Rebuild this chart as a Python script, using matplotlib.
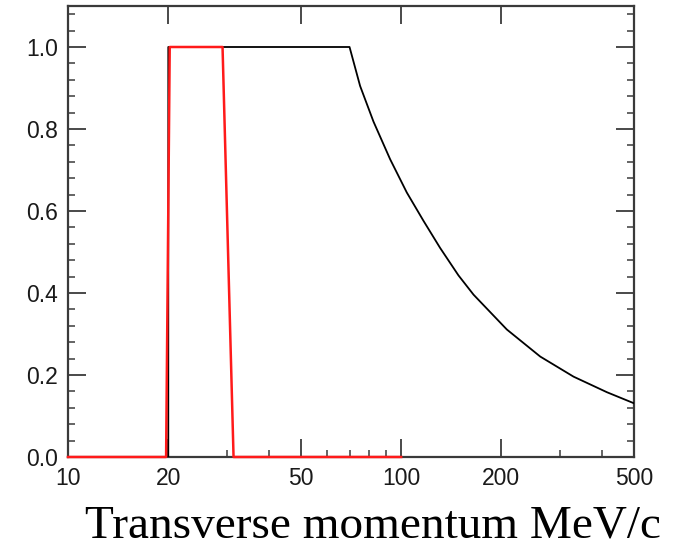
import matplotlib
matplotlib.use("Agg")
import matplotlib.pyplot as plt
from matplotlib.ticker import FixedLocator, NullFormatter, FixedFormatter

# Data
black_pt = [10, 20, 20, 70, 75.3, 82.6, 92.7, 104.0, 116.7, 130.9, 148.6, 164.9,
            207.6, 261.5, 329.2, 414.7, 500]
black_eff = [0.0, 0.0, 1.0, 1.0, 0.905, 0.818, 0.726, 0.645, 0.576, 0.510, 0.443, 0.396,
             0.311, 0.245, 0.196, 0.158, 0.131]

red_pt = [10, 19.7, 20.2, 29.1, 31.4, 100]
red_eff = [0.0, 0.0, 1.0, 1.0, 0.0, 0.0]

xticks = [10, 20, 50, 100, 200, 500]
xtick_labels = ["10", "20", "50", "100", "200", "500"]
xminor = [30, 40, 60, 70, 80, 90, 300, 400]
yticks = [0.0, 0.2, 0.4, 0.6, 0.8, 1.0]
ytick_labels = ["0.0", "0.2", "0.4", "0.6", "0.8", "1.0"]
yminor = [0.04, 0.08, 0.12, 0.16, 0.24, 0.28, 0.32, 0.36, 0.44, 0.48, 0.52, 0.56,
          0.64, 0.68, 0.72, 0.76, 0.84, 0.88, 0.92, 0.96, 1.04, 1.08]
xlabel = "Transverse momentum MeV/c"

fig = plt.figure(figsize=(6.75, 5.5), dpi=100)
ax = fig.add_axes([68/675, 1-457/550, (634-68)/675, (457-6)/550])

ax.plot(black_pt, black_eff, color="black", lw=1.3, zorder=3)
ax.plot(red_pt, red_eff, color="#ff1a1a", lw=1.8, zorder=4, clip_on=False)

ax.set_xscale("log")
ax.set_xlim(10, 500)
ax.set_ylim(0, 1.1)

ax.xaxis.set_major_locator(FixedLocator(xticks))
ax.xaxis.set_major_formatter(FixedFormatter(xtick_labels))
ax.xaxis.set_minor_locator(FixedLocator(xminor))
ax.xaxis.set_minor_formatter(NullFormatter())
ax.yaxis.set_major_locator(FixedLocator(yticks))
ax.yaxis.set_major_formatter(FixedFormatter(ytick_labels))
ax.yaxis.set_minor_locator(FixedLocator(yminor))

spine_c = "#3a3a3a"
for s in ax.spines.values():
    s.set_color(spine_c)
    s.set_linewidth(1.6)

ax.tick_params(axis="both", which="major", direction="in", length=13, width=1.3,
               color=spine_c, labelsize=16.5, labelcolor="#1a1a1a")
ax.tick_params(axis="both", which="minor", direction="in", length=5, width=1.1, color=spine_c)
ax.tick_params(axis="y", which="both", left=True, right=True)
ax.tick_params(axis="x", which="major", top=True, bottom=True, pad=7)
ax.tick_params(axis="x", which="minor", top=False, bottom=True)
ax.tick_params(axis="y", which="major", pad=7)

for lab in ax.get_xticklabels() + ax.get_yticklabels():
    lab.set_fontfamily("Liberation Sans")

fig.text(373/675, 1-538/550, xlabel, ha="center", va="baseline",
         fontsize=34, family="Liberation Serif", color="black")

fig.savefig("out.png", dpi=100)
